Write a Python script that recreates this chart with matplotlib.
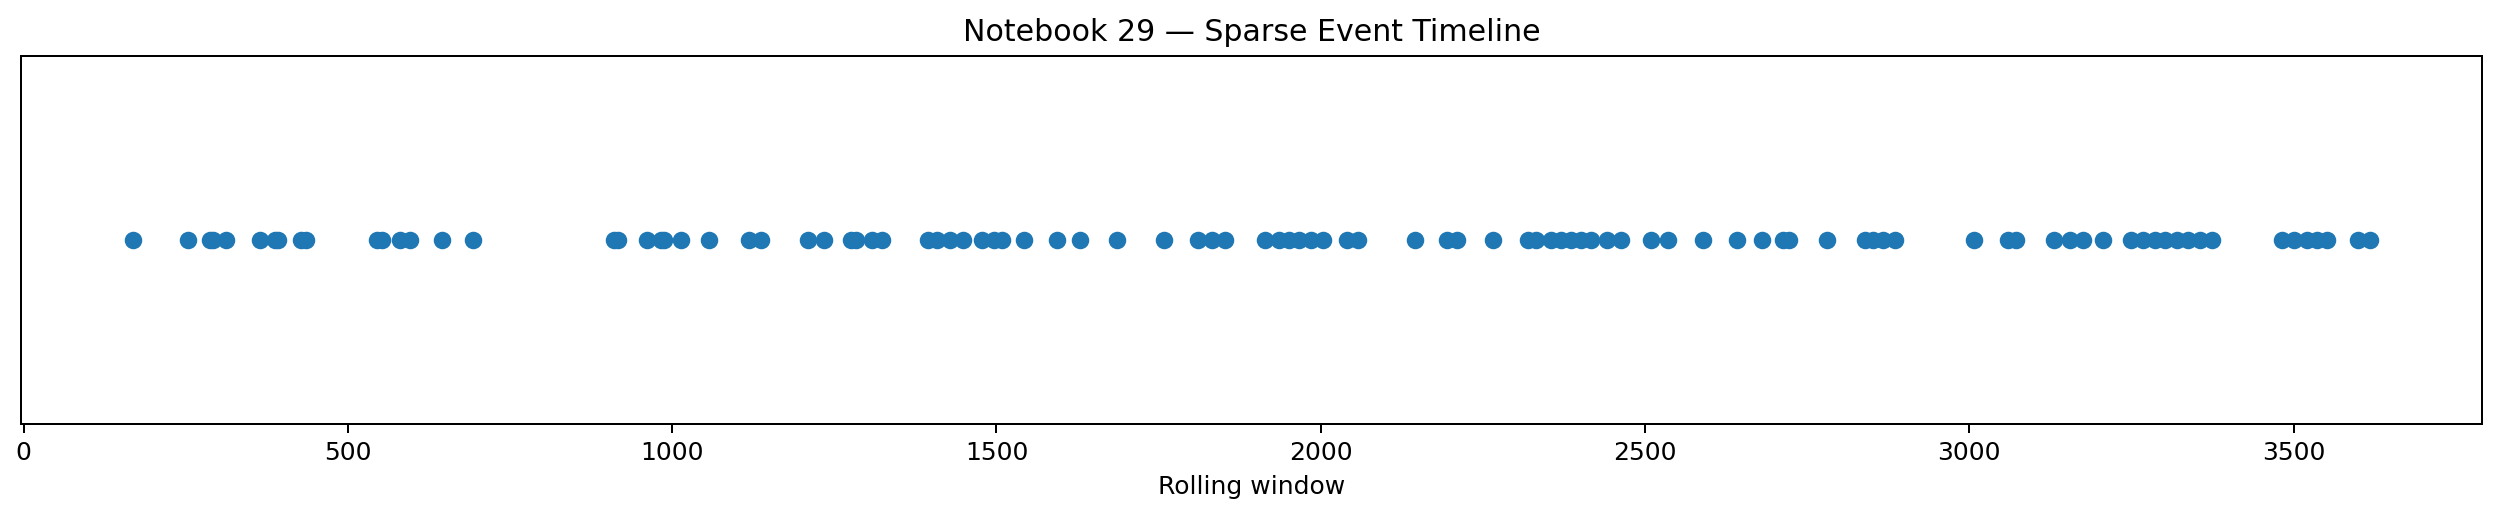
import numpy as np
import matplotlib
matplotlib.use("Agg")
import matplotlib.pyplot as plt

# event positions (all on one row)
events = [
    168, 254, 287, 292, 312, 364, 387, 392, 427, 435,
    545, 552, 580, 596, 645, 693,
    910, 916, 961, 982, 988, 1014, 1056, 1118, 1137,
    1210, 1234, 1275, 1283, 1308, 1323,
    1395, 1408, 1429, 1449, 1478, 1496, 1509, 1543, 1593, 1628,
    1686, 1759, 1811, 1833, 1853,
    1914, 1936, 1951, 1967, 1985, 2003, 2041, 2057,
    2145, 2195, 2210, 2266,
    2319, 2332, 2355, 2370, 2386, 2401, 2417, 2442, 2463,
    2509, 2536, 2589, 2642, 2680, 2712, 2722, 2780,
    2839, 2851, 2867, 2885, 3007, 3060, 3072,
    3131, 3155, 3176, 3206,
    3250, 3268, 3286, 3301, 3320, 3337, 3355, 3374,
    3482, 3500, 3520, 3536, 3551, 3600, 3618,
]
row = np.ones(len(events))

DPI = 180
fig = plt.figure(figsize=(2501 / DPI, 517 / DPI), dpi=DPI)
ax = fig.add_axes([0.0083, 0.18, 0.9841, 0.712])

ax.scatter(events, row, color="#1f77b4")
ax.set_yticks([])
ax.set_xlabel("Rolling window")
ax.set_title("Notebook 29 \u2014 Sparse Event Timeline")

fig.savefig("out.png", dpi=DPI)
